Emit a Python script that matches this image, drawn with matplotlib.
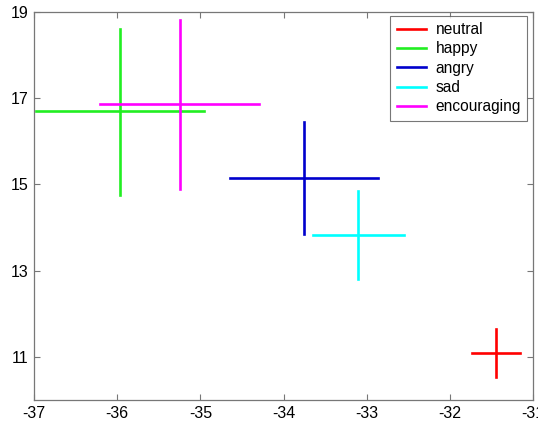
import matplotlib
matplotlib.use('Agg')
import matplotlib.pyplot as plt
import numpy as np

plt.rcParams['font.family'] = ['Liberation Sans', 'DejaVu Sans']

# emotion clusters: centre and extent of the cross in x and y
emotions = ['neutral', 'happy', 'angry', 'sad', 'encouraging']
colors = ['#ff0000', '#22ee22', '#0000cc', '#00ffff', '#ff00ff']
x_center = [-31.45, -35.96, -33.75, -33.10, -35.25]
y_center = [11.09, 16.70, 15.15, 13.83, 16.87]
x_lo = [-31.73, -36.97, -34.64, -33.65, -36.20]
x_hi = [-31.16, -34.95, -32.87, -32.55, -34.29]
y_lo = [10.54, 14.75, 13.84, 12.81, 14.89]
y_hi = [11.64, 18.61, 16.44, 14.84, 18.80]

xticks = [-37, -36, -35, -34, -33, -32, -31]
yticks = [11, 13, 15, 17, 19]

fig = plt.figure(figsize=(5.38, 4.23), dpi=100)
ax = fig.add_axes([0.063, 0.054, 0.928, 0.918])

for i, name in enumerate(emotions):
    ax.plot([x_lo[i], x_hi[i]], [y_center[i], y_center[i]], color=colors[i], lw=1.9, label=name)
    ax.plot([x_center[i], x_center[i]], [y_lo[i], y_hi[i]], color=colors[i], lw=1.9)

ax.set_xlim(-37, -31)
ax.set_ylim(10, 19)
ax.set_xticks(xticks)
ax.set_yticks(yticks)
ax.set_xticklabels([str(t) for t in xticks])
ax.set_yticklabels([str(t) for t in yticks])
ax.tick_params(direction='in', length=4, width=0.8, color='#777777', labelsize=11.5,
               top=True, right=True, pad=4)
for sp in ax.spines.values():
    sp.set_color('#777777')
    sp.set_linewidth(0.9)

leg = ax.legend(loc='upper right', bbox_to_anchor=(0.988, 0.99), fontsize=11.2,
                frameon=True, fancybox=False, handlelength=1.9, handletextpad=0.6,
                borderpad=0.4, labelspacing=0.28, borderaxespad=0)
leg.get_frame().set_edgecolor('#555555')
leg.get_frame().set_linewidth(0.8)

plt.savefig('out.png', dpi=100)
